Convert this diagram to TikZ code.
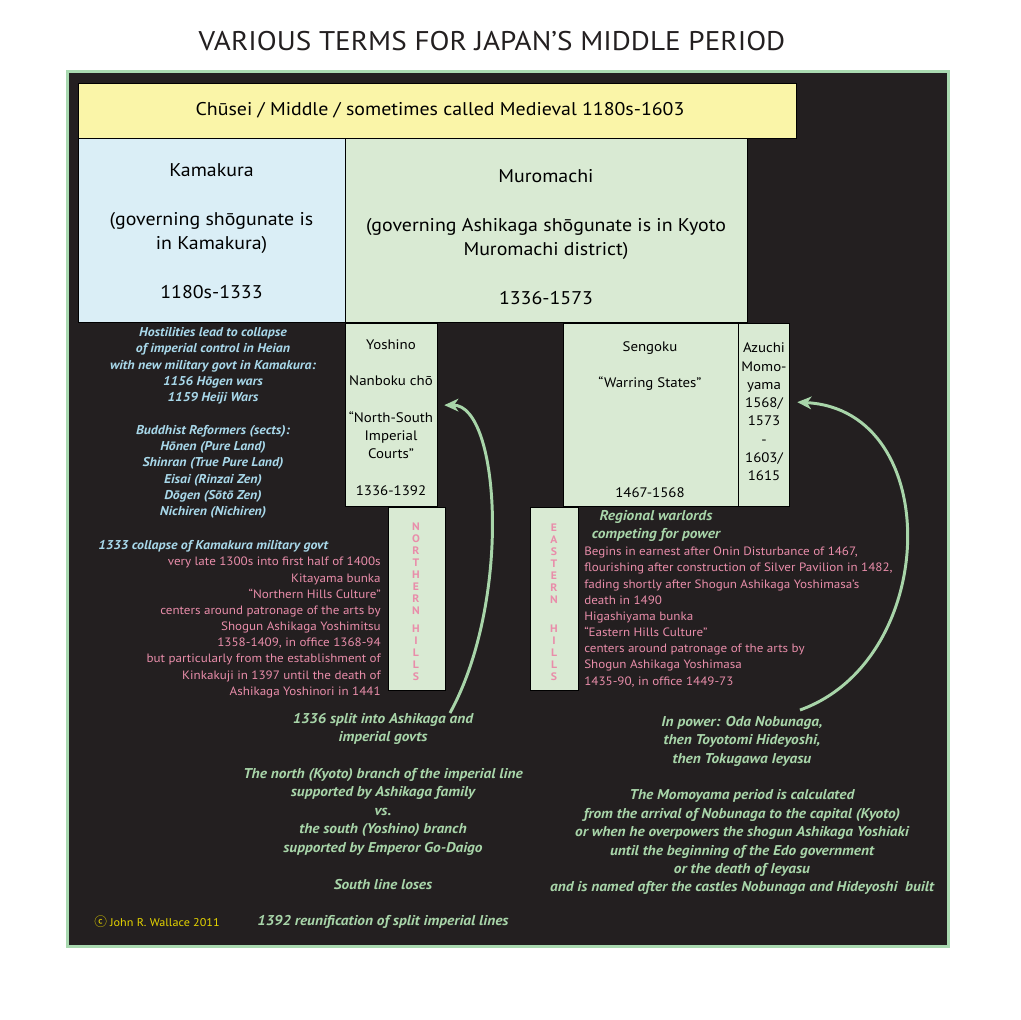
\documentclass[tikz,border=0pt]{standalone}
\usepackage{fontspec}
\setmainfont{PT Sans}[FakeStretch=1.08]
\newfontfamily\symfont{Noto Sans CJK SC}
\usetikzlibrary{arrows.meta}

\definecolor{panel}{HTML}{231F20}
\definecolor{framegreen}{HTML}{A9D9B0}
\definecolor{chuseiyellow}{HTML}{FAF5A8}
\definecolor{kamablue}{HTML}{DAEEF6}
\definecolor{murogreen}{HTML}{D9EAD3}
\definecolor{notepink}{HTML}{E98DAA}
\definecolor{noteblue}{HTML}{A8D8EA}
\definecolor{notegreen}{HTML}{A8D5A9}
\definecolor{copyyellow}{HTML}{E6D500}

\newlength\pxu
\setlength\pxu{0.025cm}

\tikzset{
  perbox/.style={draw=black, line width=0.9pt, anchor=north west, inner sep=0pt},
  boxtext/.style={align=center, text=black, inner sep=0pt, font=\fontsize{13.1}{17.4}\selectfont},
  smalltext/.style={align=center, text=black, inner sep=0pt, font=\fontsize{9.8}{13}\selectfont},
  bluenote/.style={align=center, text=noteblue, inner sep=0pt, font=\fontsize{9.1}{11.6}\selectfont\bfseries\itshape},
  pinknote/.style={text=notepink, inner sep=0pt, font=\fontsize{8.6}{11.5}\selectfont},
  greennote/.style={align=center, text=notegreen, inner sep=0pt, font=\fontsize{10.1}{13.1}\selectfont\bfseries\itshape},
  hillletters/.style={align=center, text=notepink, inner sep=0pt, font=\fontsize{7.7}{8.5}\selectfont\bfseries},
  linkarrow/.style={draw=notegreen, line width=2.1pt, -{Stealth[length=10pt, width=9pt, inset=3pt]}},
}

\begin{document}
\begin{tikzpicture}[x=1\pxu, y=-1\pxu]
  \useasboundingbox (0,0) rectangle (1020,1020);

  % title and dark panel
  \node[text=panel, inner sep=0pt, font=\fontsize{19.2}{22}\selectfont] (title) at (492,41) {VARIOUS TERMS FOR JAPAN’S MIDDLE PERIOD};
  \draw[draw=framegreen, line width=2.1pt, fill=panel] (67.5,71.5) rectangle (948.5,946.5);

  % period boxes
  \node[perbox, fill=chuseiyellow, minimum width=718\pxu, minimum height=55\pxu] (chusei) at (78,83) {};
  \node[perbox, fill=kamablue, minimum width=267\pxu, minimum height=184\pxu] (kamakura) at (78,138) {};
  \node[perbox, fill=murogreen, minimum width=402\pxu, minimum height=184\pxu] (muromachi) at (345,138) {};
  \node[perbox, fill=murogreen, minimum width=92\pxu, minimum height=183\pxu] (yoshino) at (345,323) {};
  \node[perbox, fill=murogreen, minimum width=175\pxu, minimum height=183\pxu] (sengoku) at (563,323) {};
  \node[perbox, fill=murogreen, minimum width=51\pxu, minimum height=183\pxu] (azuchi) at (738,323) {};
  \node[perbox, fill=murogreen, minimum width=57\pxu, minimum height=183\pxu] (kitayama) at (388,507) {};
  \node[perbox, fill=murogreen, minimum width=48\pxu, minimum height=183\pxu] (higashiyama) at (530,507) {};

  % box texts
  \node[boxtext] (chuseilabel) at (440,110) {Chūsei / Middle / sometimes called Medieval 1180s-1603};
  \node[boxtext] (kamalabel) at (211.5,231) {Kamakura\\[17.4pt](governing shōgunate is\\in Kamakura)\\[17.4pt]1180s-1333};
  \node[boxtext] (murolabel) at (546,237) {Muromachi\\[17.4pt](governing Ashikaga shōgunate is in Kyoto\\Muromachi district)\\[17.4pt]1336-1573};
  \node[smalltext] (yoshinolabel) at (391,417.5) {Yoshino\\[13pt]Nanboku chō\\[13pt]“North-South\\Imperial\\Courts”\\[13pt]1336-1392};
  \node[smalltext] (sengokulabel) at (650,366) {Sengoku\\[13pt]“Warring States”};
  \node[smalltext] (sengokudates) at (650,493) {1467-1568};
  \node[smalltext] (azuchilabel) at (764,412) {Azuchi\\Momo-\\yama\\1568/\\1573\\-\\1603/\\1615};
  \node[hillletters, anchor=north] (kitayamaletters) at (416,523) {N\\O\\R\\T\\H\\E\\R\\N\\[4.5pt]H\\I\\L\\L\\S};
  \node[hillletters, anchor=north] (higashiletters) at (554,524) {E\\A\\S\\T\\E\\R\\N\\[12pt]H\\I\\L\\L\\S};

  % notes on the left
  \node[bluenote] (heiannote) at (213,423) {Hostilities lead to collapse\\of imperial control in Heian\\with new military govt in Kamakura:\\1156 Hōgen wars\\1159 Heiji Wars\\[11.6pt]Buddhist Reformers (sects):\\Hōnen (Pure Land)\\Shinran (True Pure Land)\\Eisai (Rinzai Zen)\\Dōgen (Sōtō Zen)\\Nichiren (Nichiren)};
  \node[bluenote, anchor=west] (collapsenote) at (98,546) {1333 collapse of Kamakura military govt};
  \node[pinknote, align=right, anchor=east] (kitayamanote) at (381,627.5) {very late 1300s into first half of 1400s\\Kitayama bunka\\“Northern Hills Culture”\\centers around patronage of the arts by\\Shogun Ashikaga Yoshimitsu\\1358-1409, in office 1368-94\\but particularly from the establishment of\\Kinkakuji in 1397 until the death of\\Ashikaga Yoshinori in 1441};

  % notes on the right
  \node[greennote, font=\fontsize{10.1}{12.8}\selectfont\bfseries\itshape] (warlordnote) at (656,526) {Regional warlords\\competing for power};
  \node[pinknote, align=left, anchor=west] (higashinote) at (584,617) {Begins in earnest after Onin Disturbance of 1467,\\flourishing after construction of Silver Pavilion in 1482,\\fading shortly after Shogun Ashikaga Yoshimasa's\\death in 1490\\Higashiyama bunka\\“Eastern Hills Culture”\\centers around patronage of the arts by\\Shogun Ashikaga Yoshimasa\\1435-90, in office 1449-73};

  % notes at the bottom
  \node[greennote] (splitnote) at (383,821) {1336 split into Ashikaga and\\imperial govts\\[13.1pt]The north (Kyoto) branch of the imperial line\\supported by Ashikaga family\\vs.\\the south (Yoshino) branch\\supported by Emperor Go-Daigo\\[13.1pt]South line loses\\[13.1pt]1392 reunification of split imperial lines};
  \node[greennote] (powernote) at (742,805.5) {In power: Oda Nobunaga,\\then Toyotomi Hideyoshi,\\then Tokugawa Ieyasu\\[13.1pt]The Momoyama period is calculated\\from the arrival of Nobunaga to the capital (Kyoto)\\or when he overpowers the shogun Ashikaga Yoshiaki\\until the beginning of the Edo government\\or the death of Ieyasu\\and is named after the castles Nobunaga and Hideyoshi\ \ built};
  \node[text=copyyellow, anchor=west, inner sep=0pt, font=\fontsize{8}{10}\selectfont] (credit) at (94,922) {{\symfont\fontsize{9}{10}\selectfont ⓒ}\ John R. Wallace 2011};

  % arrows
  \coordinate (splitstart) at (450,713);
  \coordinate (powerstart) at (800,710);
  \draw[linkarrow] (splitstart) .. controls (512,600) and (500,405) .. ([shift={(6,-10)}]yoshino.east);
  \draw[linkarrow] (powerstart) .. controls (940,660) and (945,410) .. ([shift={(7,-13)}]azuchi.east);
\end{tikzpicture}
\end{document}
